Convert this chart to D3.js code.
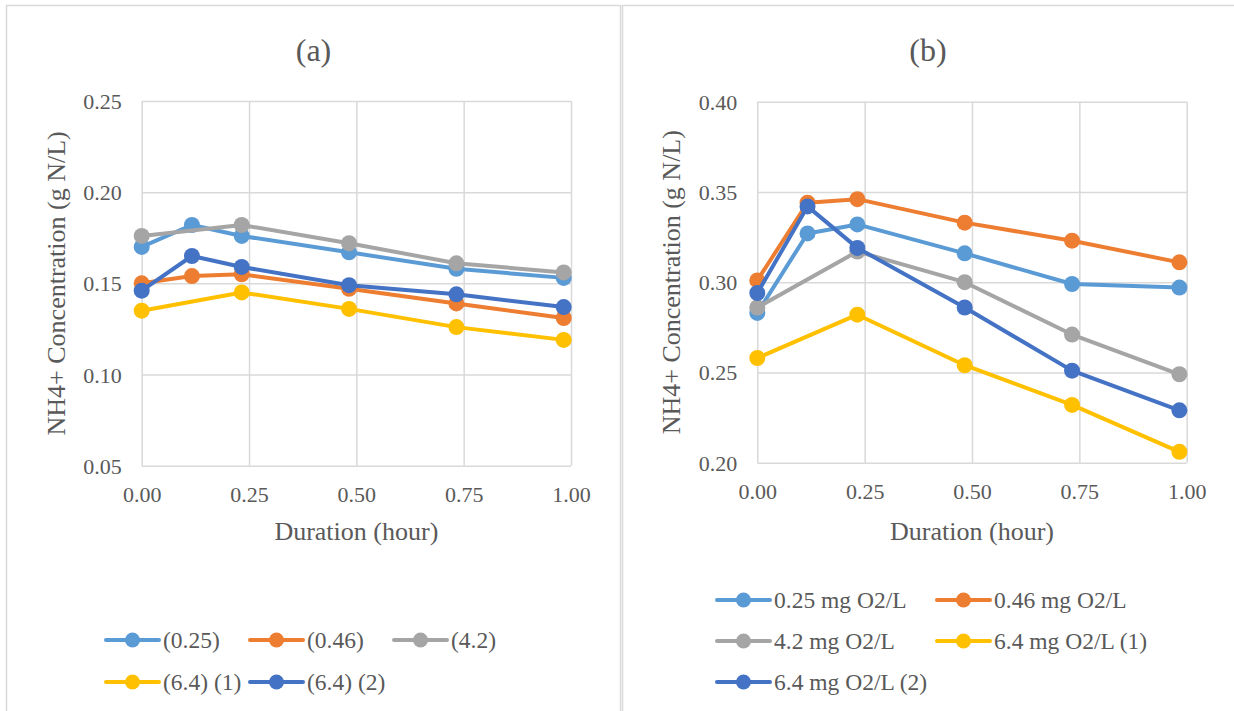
<!DOCTYPE html>
<html>
<head>
<meta charset="utf-8">
<script src="https://cdn.jsdelivr.net/npm/d3@7"></script>
<style>
  html, body { margin: 0; padding: 0; background: #fff; }
  svg { display: block; }
  svg text { font-family: "Liberation Serif", "Times New Roman", serif !important; fill: #595959; }
</style>
</head>
<body>
<svg id="chart" width="1234" height="711"></svg>
<script>
// Sampling times (hour)
const durations = [0.000, 0.117, 0.233, 0.483, 0.733, 0.983];
const xTicks = [0.00, 0.25, 0.50, 0.75, 1.00];

// Panel (a): NH4+ concentration (g N/L)
const aTicks = [0.05, 0.10, 0.15, 0.20, 0.25];
const aNames = ["(0.25)", "(0.46)", "(4.2)", "(6.4) (1)", "(6.4) (2)"];
const a_025 = [0.170, 0.182, 0.176, 0.167, 0.158, 0.153];
const a_046 = [0.150, 0.154, 0.155, 0.147, 0.139, 0.131];
const a_42 = [0.176, null, 0.182, 0.172, 0.161, 0.156];
const a_64_1 = [0.135, null, 0.145, 0.136, 0.126, 0.119];
const a_64_2 = [0.146, 0.165, 0.159, 0.149, 0.144, 0.137];

// Panel (b): NH4+ concentration (g N/L)
const bTicks = [0.20, 0.25, 0.30, 0.35, 0.40];
const bNames = ["0.25 mg O2/L", "0.46 mg O2/L", "4.2 mg O2/L", "6.4 mg O2/L (1)", "6.4 mg O2/L (2)"];
const b_025 = [0.283, 0.327, 0.332, 0.316, 0.299, 0.297];
const b_046 = [0.301, 0.344, 0.346, 0.333, 0.323, 0.311];
const b_42 = [0.286, null, 0.317, 0.300, 0.271, 0.249];
const b_64_1 = [0.258, null, 0.282, 0.254, 0.232, 0.206];
const b_64_2 = [0.294, 0.342, 0.319, 0.286, 0.251, 0.229];

const colors = ["#5B9BD5", "#ED7D31", "#A5A5A5", "#FFC000", "#4472C4"];
const serif = '"Liberation Serif", "Times New Roman", serif';

const svg = d3.select("#chart");

// Chart frames
svg.append("rect").attr("x", 6.5).attr("y", 5.5).attr("width", 614).attr("height", 720)
  .attr("fill", "none").attr("stroke", "#d9d9d9").attr("stroke-width", 1.5);
svg.append("rect").attr("x", 622.5).attr("y", 5.5).attr("width", 640).attr("height", 720)
  .attr("fill", "none").attr("stroke", "#d9d9d9").attr("stroke-width", 1.5);

function drawPanel(cfg) {
  const g = svg.append("g");
  const x = d3.scaleLinear().domain([0, 1]).range([cfg.left, cfg.right]);
  const y = d3.scaleLinear().domain([cfg.ticks[0], cfg.ticks[cfg.ticks.length - 1]]).range([cfg.bottom, cfg.top]);

  // Title
  g.append("text").attr("x", cfg.titleX).attr("y", 61)
    .attr("text-anchor", "middle").style("font-size", "32px").text(cfg.title);

  // Gridlines and tick labels
  const yAxis = d3.axisLeft(y).tickValues(cfg.ticks).tickFormat(d3.format(".2f"))
    .tickSize(-(cfg.right - cfg.left)).tickPadding(20);
  const yg = g.append("g").attr("transform", `translate(${cfg.left},0)`).call(yAxis)
    .attr("font-family", serif).attr("font-size", 22);
  yg.select(".domain").remove();
  yg.selectAll("line").attr("stroke", "#d9d9d9").attr("stroke-width", 1.5);
  yg.selectAll("text").attr("fill", "#595959").attr("dy", "0.34em");

  const xAxis = d3.axisBottom(x).tickValues(xTicks).tickFormat(d3.format(".2f"))
    .tickSize(-(cfg.bottom - cfg.top)).tickPadding(14);
  const xg = g.append("g").attr("transform", `translate(0,${cfg.bottom})`).call(xAxis)
    .attr("font-family", serif).attr("font-size", 22);
  xg.select(".domain").remove();
  xg.selectAll("line").attr("stroke", "#d9d9d9").attr("stroke-width", 1.5);
  xg.selectAll("text").attr("fill", "#595959").attr("dy", "1.0em");

  // Axis titles
  g.append("text").attr("x", (cfg.left + cfg.right) / 2).attr("y", 540)
    .attr("text-anchor", "middle").style("font-size", "26px").text("Duration (hour)");
  g.append("text")
    .attr("transform", `translate(${cfg.left - 77},${(cfg.top + cfg.bottom) / 2}) rotate(-90)`)
    .attr("text-anchor", "middle").style("font-size", "26px").text("NH4+ Concentration (g N/L)");

  // Series
  const line = d3.line().x(d => x(d.t)).y(d => y(d.v));
  cfg.series.forEach((vals, i) => {
    const pts = durations.map((t, k) => ({ t, v: vals[k] })).filter(d => d.v !== null);
    const sg = g.append("g");
    sg.append("path").datum(pts).attr("d", line)
      .attr("fill", "none").attr("stroke", colors[i]).attr("stroke-width", 4)
      .attr("stroke-linejoin", "round").attr("stroke-linecap", "round");
    sg.selectAll("circle").data(pts).join("circle")
      .attr("cx", d => x(d.t)).attr("cy", d => y(d.v)).attr("r", 8)
      .attr("fill", colors[i]);
  });

  // Legend
  cfg.names.forEach((name, i) => {
    const col = i % cfg.legCols, row = Math.floor(i / cfg.legCols);
    const lx = cfg.legX + col * cfg.legColW, ly = cfg.legY + row * cfg.legRowH;
    const lg = g.append("g").attr("transform", `translate(${lx},${ly})`);
    lg.append("line").attr("x1", 0).attr("x2", 53).attr("y1", 0).attr("y2", 0)
      .attr("stroke", colors[i]).attr("stroke-width", 4).attr("stroke-linecap", "round");
    lg.append("circle").attr("cx", 26.5).attr("cy", 0).attr("r", 7.5).attr("fill", colors[i]);
    lg.append("text").attr("x", 57).attr("y", 0).attr("dy", "0.34em")
      .style("font-size", "23.5px").text(name);
  });
}

drawPanel({
  title: "(a)", titleX: 313.5,
  left: 141.7, right: 571, top: 101, bottom: 465.7,
  ticks: aTicks, names: aNames,
  series: [a_025, a_046, a_42, a_64_1, a_64_2],
  legX: 106, legY: 640, legCols: 3, legColW: 144, legRowH: 42
});

drawPanel({
  title: "(b)", titleX: 928,
  left: 757.3, right: 1186.7, top: 101.7, bottom: 462.7,
  ticks: bTicks, names: bNames,
  series: [b_025, b_046, b_42, b_64_1, b_64_2],
  legX: 717, legY: 600, legCols: 2, legColW: 220, legRowH: 41
});
</script>
</body>
</html>
